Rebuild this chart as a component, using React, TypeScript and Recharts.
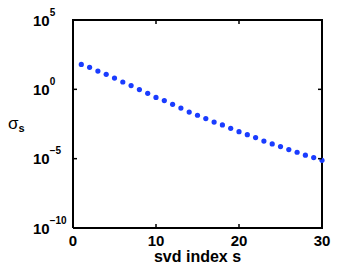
import React from "react";
import { LineChart, Line, XAxis, YAxis } from "recharts";

const svdIndex = [1, 2, 3, 4, 5, 6, 7, 8, 9, 10, 11, 12, 13, 14, 15, 16, 17, 18, 19, 20, 21, 22, 23, 24, 25, 26, 27, 28, 29, 30];
const sigmaValues = [
  63, 38.9, 20.9, 12.0, 6.46, 3.39, 1.86, 0.955, 0.513, 0.263,
  0.155, 0.0832, 0.0447, 0.0229, 0.0135, 0.00776, 0.00437, 0.00269, 0.00155, 8.9e-4,
  5.4e-4, 3.3e-4, 1.86e-4, 1.15e-4, 7.4e-5, 4.5e-5, 2.9e-5, 1.8e-5, 1.2e-5, 7.6e-6,
];
const xTicks = [0, 10, 20, 30];
const yTicks = [1e-10, 1e-5, 1, 1e5];
const yTickExponents = ["\u221210", "\u22125", "0", "5"];
const xLabel = "svd index s";

const data = svdIndex.map((s, i) => ({ s, sigma: sigmaValues[i] }));

const FONT = "'Liberation Sans', Arial, Helvetica, sans-serif";
const BLUE = "#1a3cff";
const CHART_W = 355;
const CHART_H = 267;
const MARGIN = { top: 20, right: 33, bottom: 0, left: 0 };
const Y_AXIS_W = 73;
const X_AXIS_H = 39;
const PLOT_X = MARGIN.left + Y_AXIS_W;
const PLOT_Y = MARGIN.top;
const PLOT_W = CHART_W - MARGIN.left - MARGIN.right - Y_AXIS_W;
const PLOT_H = CHART_H - MARGIN.top - MARGIN.bottom - X_AXIS_H;
const TICK_OFFSET = 8;

const XTickBottom = (props: any) => {
  const { x, y, payload } = props;
  const axisY = y - TICK_OFFSET;
  return (
    <g>
      <rect x={x - 0.75} y={axisY - 4} width={1.5} height={4} fill="#000" />
      <rect x={x - 0.75} y={axisY - PLOT_H} width={1.5} height={4} fill="#000" />
      <text x={x} y={axisY + 18} textAnchor="middle" fontFamily={FONT} fontWeight="bold" fontSize={15} fill="#000">
        {payload.value}
      </text>
    </g>
  );
};

const YTickLeft = (props: any) => {
  const { x, y, payload } = props;
  const axisX = x + TICK_OFFSET;
  const idx = yTicks.indexOf(payload.value);
  const exp = idx >= 0 ? yTickExponents[idx] : "";
  return (
    <g>
      <rect x={axisX} y={y - 0.75} width={4} height={1.5} fill="#000" />
      <rect x={axisX + PLOT_W - 4} y={y - 0.75} width={4} height={1.5} fill="#000" />
      <text x={axisX - 40} y={y + 5.5} textAnchor="start" fontFamily={FONT} fontWeight="bold" fontSize={15} fill="#000">
        <tspan>10</tspan>
        <tspan dy={-10} fontSize={10}>{exp}</tspan>
      </text>
    </g>
  );
};

export default function App() {
  return (
    <div style={{ position: "absolute", left: 0, top: 0, width: CHART_W, height: CHART_H, background: "#fff" }}>
      <LineChart width={CHART_W} height={CHART_H} data={data} margin={MARGIN}>
        <XAxis
          dataKey="s"
          type="number"
          domain={[0, 30]}
          ticks={xTicks}
          height={X_AXIS_H}
          stroke="#000"
          tickLine={false}
          axisLine={{ stroke: "#000", strokeWidth: 2 }}
          tick={<XTickBottom />}
          interval={0}
        />
        <YAxis
          scale="log"
          domain={[1e-10, 1e5]}
          allowDataOverflow
          ticks={yTicks}
          width={Y_AXIS_W}
          stroke="#000"
          tickLine={false}
          axisLine={{ stroke: "#000", strokeWidth: 2 }}
          tick={<YTickLeft />}
          interval={0}
        />
        <Line
          dataKey="sigma"
          stroke={BLUE}
          strokeOpacity={0}
          isAnimationActive={false}
          dot={{ r: 2.6, fill: BLUE, stroke: "none" }}
        />
        <rect x={PLOT_X - 1} y={PLOT_Y - 1} width={PLOT_W + 2} height={2} fill="#000" />
        <rect x={PLOT_X + PLOT_W - 1} y={PLOT_Y - 1} width={2} height={PLOT_H + 2} fill="#000" />
        <text x={PLOT_X + PLOT_W / 2} y={262} textAnchor="middle" fontFamily={FONT} fontWeight="bold" fontSize={16} fill="#000">
          {xLabel}
        </text>
        <text x={8} y={129} textAnchor="start" fontFamily={FONT} fill="#000">
          <tspan fontSize={17}>σ</tspan>
          <tspan fontSize={11} fontWeight="bold" dy={3}>s</tspan>
        </text>
      </LineChart>
    </div>
  );
}
